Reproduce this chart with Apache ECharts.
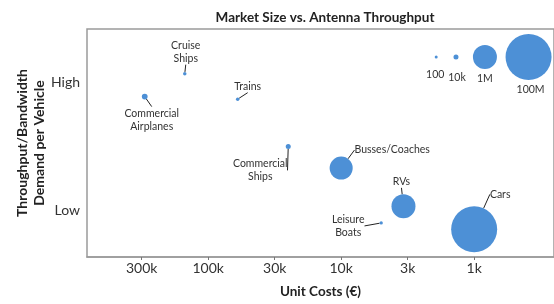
<!DOCTYPE html>
<html>
<head>
<meta charset="utf-8">
<script src="https://cdn.jsdelivr.net/npm/echarts@6/dist/echarts.min.js"></script>
<style>
  html, body { margin: 0; padding: 0; background: #fff; }
  #chart { width: 554px; height: 304px; }
</style>
</head>
<body>
<div id="chart"></div>
<script>
// vehicle bubbles
const vehicles = ["Commercial\nAirplanes", "Cruise\nShips", "Trains", "Commercial\nShips", "Busses/Coaches", "RVs", "Leisure\nBoats", "Cars"];
const unitCosts = [300000, 150000, 60000, 25000, 10000, 3400, 5000, 1000];
const throughput = [1.89, 2.07, 1.87, 1.5, 1.33, 1.03, 0.9, 0.85];
const marketSizes = [12000, 300, 300, 10000, 800000, 1000000, 200, 100000000];

// size legend drawn inside the plot
const legendLabels = ["100", "10k", "1M", "100M"];
const legendSizes = [100, 10000, 1000000, 100000000];
const legendCosts = [1930, 1370, 830, 390];
const legendLevel = [2.2, 2.2, 2.2, 2.2];

// axis ticks
const costTickValues = [316000, 100000, 31600, 10000, 3160, 1000];
const costTickLabels = ["300k", "100k", "30k", "10k", "3k", "1k"];
const levelTickValues = [1, 2];
const levelTickLabels = ["Low", "High"];

// styling
const BLUE = "#4d90d6";
const FONT = "Lato";
const legendDiameters = [3, 5, 24, 46];
const vehicleLabelShift = [[7, 23], [1, -22], [10, -13], [-28, 24], [51, -18], [-2, -25], [-33, 3], [26, -35]];
const legendLabelShift = [[-1, 18], [1, 21], [0, 22], [2, 33]];

const logSizes = legendSizes.map(Math.log10);
function bubbleDiameter(size) {
  const s = Math.log10(size);
  if (s <= logSizes[0]) return legendDiameters[0];
  for (let i = 1; i < logSizes.length; i++) {
    if (s <= logSizes[i]) {
      const t = (s - logSizes[i - 1]) / (logSizes[i] - logSizes[i - 1]);
      return legendDiameters[i - 1] + t * (legendDiameters[i] - legendDiameters[i - 1]);
    }
  }
  return legendDiameters[legendDiameters.length - 1];
}

const chart = echarts.init(document.getElementById("chart"));

const vehicleData = vehicles.map((name, i) => ({
  name: name,
  value: [unitCosts[i], throughput[i], marketSizes[i]]
}));

const legendData = legendLabels.map((name, i) => ({
  name: name,
  value: [legendCosts[i], legendLevel[i], legendSizes[i]],
  label: { offset: legendLabelShift[i] }
}));

const option = {
  animation: false,
  textStyle: { fontFamily: FONT },
  title: {
    text: "Market Size vs. Antenna Throughput",
    left: 320,
    top: 6,
    textAlign: "center",
    textStyle: { fontFamily: FONT, fontSize: 13.5, fontWeight: "bold", color: "#222" }
  },
  grid: {
    left: 87,
    top: 29,
    right: -2,
    bottom: 46,
    show: true,
    borderColor: "#9a9a9a",
    borderWidth: 1.5
  },
  xAxis: {
    type: "log",
    inverse: true,
    min: 251,
    max: 815000,
    name: "Unit Costs (\u20ac)",
    nameLocation: "middle",
    nameGap: 28,
    nameTextStyle: { fontFamily: FONT, fontSize: 13.5, fontWeight: "bold", color: "#222" },
    axisLine: { show: true, lineStyle: { color: "#9a9a9a", width: 1.5 } },
    axisTick: { show: true, length: 3, customValues: costTickValues, lineStyle: { color: "#777" } },
    axisLabel: {
      customValues: costTickValues,
      margin: 4,
      fontSize: 14,
      color: "#333",
      formatter: (v) => costTickLabels[costTickValues.indexOf(v)] || ""
    },
    splitLine: { show: false },
    minorTick: { show: false }
  },
  yAxis: {
    type: "value",
    min: 0.633,
    max: 2.42,
    name: "Throughput/Bandwidth\nDemand per Vehicle",
    nameLocation: "middle",
    nameRotate: 90,
    nameGap: 39,
    nameMoveOverlap: false,
    nameTextStyle: { fontFamily: FONT, fontSize: 14, fontWeight: "bold", color: "#222", lineHeight: 17 },
    axisLine: { show: false },
    axisTick: { show: false },
    axisLabel: {
      customValues: levelTickValues,
      margin: 7,
      fontSize: 14,
      color: "#333",
      formatter: (v) => levelTickLabels[levelTickValues.indexOf(v)] || ""
    },
    splitLine: { show: false }
  },
  series: [
    {
      name: "vehicles",
      type: "scatter",
      data: vehicleData,
      symbolSize: (val) => bubbleDiameter(val[2]),
      itemStyle: { color: BLUE, opacity: 1 },
      label: {
        show: true,
        position: "inside",
        formatter: (p) => p.name,
        fontSize: 10.5,
        lineHeight: 13,
        color: "#333",
        align: "center"
      },
      labelLine: { show: true, lineStyle: { color: "#222", width: 1 } },
      labelLayout: (p) => {
        const d = vehicleLabelShift[p.dataIndex];
        return { dx: d[0], dy: d[1] };
      }
    },
    {
      name: "size legend",
      type: "scatter",
      data: legendData,
      symbolSize: (val) => bubbleDiameter(val[2]),
      itemStyle: { color: BLUE, opacity: 1 },
      label: {
        show: true,
        position: "inside",
        formatter: (p) => p.name,
        fontSize: 10.5,
        color: "#333"
      }
    }
  ]
};

chart.setOption(option);
</script>
</body>
</html>
